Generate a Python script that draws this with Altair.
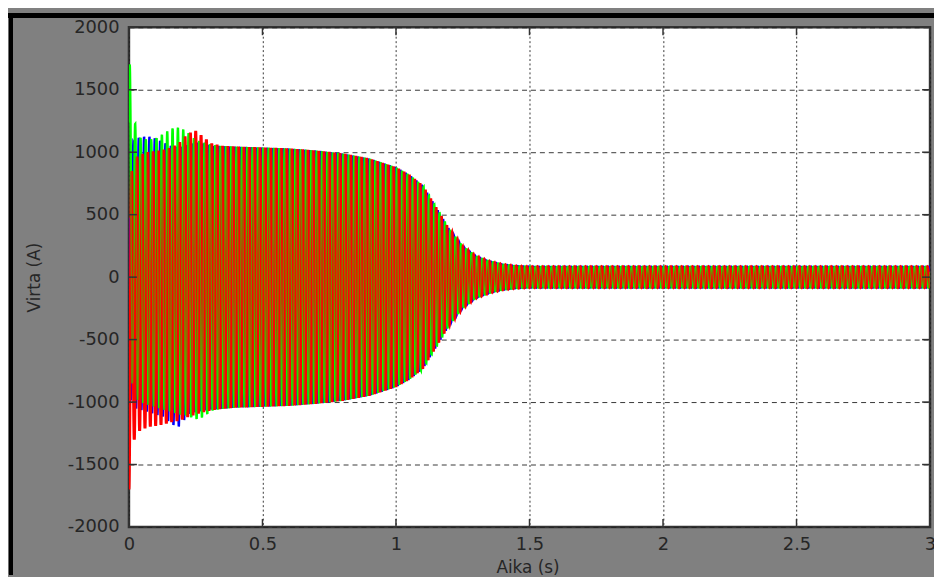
import numpy as np
import pandas as pd
import altair as alt

alt.data_transformers.disable_max_rows()

# ---- data -----------------------------------------------------------------
# knot times (s) at which the upper / lower peak envelope of each phase was read
T_KNOTS = [0.0, 0.01, 0.02, 0.04, 0.07, 0.1, 0.13, 0.16, 0.19, 0.22, 0.25, 0.28, 0.31, 0.35,
           0.4, 0.5, 0.6, 0.7, 0.8, 0.9, 1.0, 1.05, 1.1, 1.15, 1.2, 1.25, 1.3, 1.35, 1.4,
           1.45, 1.5, 2.0, 2.5, 3.0]
# common peak amplitude from 0.4 s on (A)
LATE = [1045, 1038, 1030, 1014, 990, 950, 880, 820, 735, 560, 380, 245, 165, 125, 100,
        88, 83, 83, 83, 83]
LATE_NEG = [-v for v in LATE]

BLUE_UP = [950, 1050, 1100, 1120, 1130, 1110, 1080, 1050, 1040, 1060, 1080, 1070, 1050, 1050] + LATE
BLUE_LO = [-950, -1000, -1050, -1060, -1080, -1100, -1120, -1180, -1200, -1100, -1080, -1070, -1060, -1055] + LATE_NEG
GREEN_UP = [1850, 1380, 1250, 1120, 1100, 1110, 1150, 1190, 1200, 1160, 1100, 1080, 1060, 1050] + LATE
GREEN_LO = [-600, -800, -950, -1000, -1020, -1040, -1060, -1080, -1100, -1110, -1140, -1120, -1070, -1055] + LATE_NEG
RED_UP = [600, 850, 950, 980, 1000, 1010, 1020, 1040, 1080, 1150, 1170, 1120, 1070, 1050] + LATE
RED_LO = [-1700, -1450, -1300, -1230, -1200, -1190, -1180, -1160, -1150, -1120, -1100, -1080, -1065, -1055] + LATE_NEG

FREQ_HZ = 50.0                      # supply frequency
PHASES = ["A", "B", "C"]
PHASE_DEG = [150.0, 30.0, 270.0]    # three-phase angles
PHASE_COLORS = ["#0000ff", "#00ff00", "#ff0000"]
PHASE_WIDTH = [2.4, 2.4, 3.0]

X_TICKS = [0, 0.5, 1, 1.5, 2, 2.5, 3]
Y_TICKS = [-2000, -1500, -1000, -500, 0, 500, 1000, 1500, 2000]

# ---- build the table ------------------------------------------------------
t = np.round(np.arange(0.0, 3.0 + 1e-9, 0.0005), 4)
frames = []
for name, deg, up, lo in zip(PHASES, PHASE_DEG,
                             [BLUE_UP, GREEN_UP, RED_UP], [BLUE_LO, GREEN_LO, RED_LO]):
    u = np.interp(t, T_KNOTS, up)
    l = np.interp(t, T_KNOTS, lo)
    mid = (u + l) / 2.0
    half = (u - l) / 2.0
    i = mid + half * np.sin(2 * np.pi * FREQ_HZ * t + np.deg2rad(deg))
    frames.append(pd.DataFrame({"t": t, "i": np.round(i, 1), "phase": name}))
df = pd.concat(frames, ignore_index=True)

W, H = 808, 504
PAD = {"left": 122, "top": 17, "right": 4, "bottom": 48}

xscale = alt.Scale(domain=[0, 3], nice=False, zero=False)
yscale = alt.Scale(domain=[-2000, 2000], nice=False, zero=False)

FONT = "DejaVu Sans"
TXT = "#262626"

x_axis = alt.Axis(values=X_TICKS, labelExpr="'' + datum.value", ticks=False, domain=False,
                  grid=True, gridDash=[2, 2.5], gridColor="#222222", gridOpacity=0.9,
                  labelPadding=9, labelFlush=False, labelOverlap=False,
                  title="Aika (s)", titleX=402, titleY=41, titleAlign="center",
                  titleBaseline="middle")
y_axis = alt.Axis(values=Y_TICKS, labelExpr="'' + datum.value", ticks=False, domain=False,
                  grid=True, gridDash=[5, 4], gridColor="#222222", gridOpacity=0.9,
                  labelPadding=10, labelFlush=False, labelOverlap=False,
                  title="Virta (A)", titleX=-95, titleY=H / 2, titleAngle=270,
                  titleAlign="center", titleBaseline="middle")

base = alt.Chart(df)


def phase_line(name, col, sw, opacity=1.0):
    return (
        base.transform_filter(alt.datum.phase == name)
        .mark_line(color=col, strokeWidth=sw, opacity=opacity, clip=True)
        .encode(
            x=alt.X("t:Q", scale=xscale, axis=x_axis),
            y=alt.Y("i:Q", scale=yscale, axis=y_axis),
            order="t:Q",
        )
    )


layers = [phase_line(n, c, w) for n, c, w in zip(PHASES, PHASE_COLORS, PHASE_WIDTH)]
# the green phase shows through the red one as olive stripes in the original
layers.append(phase_line(PHASES[1], PHASE_COLORS[1], 1.4, 0.5))

yt = pd.DataFrame({"v": Y_TICKS})
xt = pd.DataFrame({"v": X_TICKS})
TL = 8
tick_style = dict(color="#333333", strokeWidth=1.5)
left_ticks = alt.Chart(yt).mark_rule(**tick_style).encode(
    y=alt.Y("v:Q", scale=yscale, axis=y_axis), x=alt.value(0), x2=alt.value(TL))
right_ticks = alt.Chart(yt).mark_rule(**tick_style).encode(
    y=alt.Y("v:Q", scale=yscale, axis=y_axis), x=alt.value(W - TL), x2=alt.value(W))
bottom_ticks = alt.Chart(xt).mark_rule(**tick_style).encode(
    x=alt.X("v:Q", scale=xscale, axis=x_axis), y=alt.value(H), y2=alt.value(H - TL))
top_ticks = alt.Chart(xt).mark_rule(**tick_style).encode(
    x=alt.X("v:Q", scale=xscale, axis=x_axis), y=alt.value(0), y2=alt.value(TL))

# dark window frame on the top and left of the figure
frame_top = alt.Chart(yt).mark_rule(color="#000000", strokeWidth=4).encode(
    x=alt.value(-PAD["left"]), x2=alt.value(W + PAD["right"]), y=alt.value(-12))
frame_left = alt.Chart(yt).mark_rule(color="#000000", strokeWidth=4).encode(
    x=alt.value(-119), y=alt.value(-14), y2=alt.value(H + PAD["bottom"]))

chart = alt.layer(*layers, left_ticks, right_ticks, bottom_ticks, top_ticks,
                  frame_top, frame_left).properties(
    width=W, height=H, padding=PAD, autosize="none", background="#808080"
).configure_view(
    stroke="#333333", strokeWidth=2.5, fill="#ffffff"
).configure_axis(
    labelFont=FONT, labelFontSize=18, labelColor=TXT,
    titleFont=FONT, titleFontSize=17, titleColor=TXT, titleFontWeight="normal",
)

chart.save("out.html", embed_options={"renderer": "svg", "actions": False})
